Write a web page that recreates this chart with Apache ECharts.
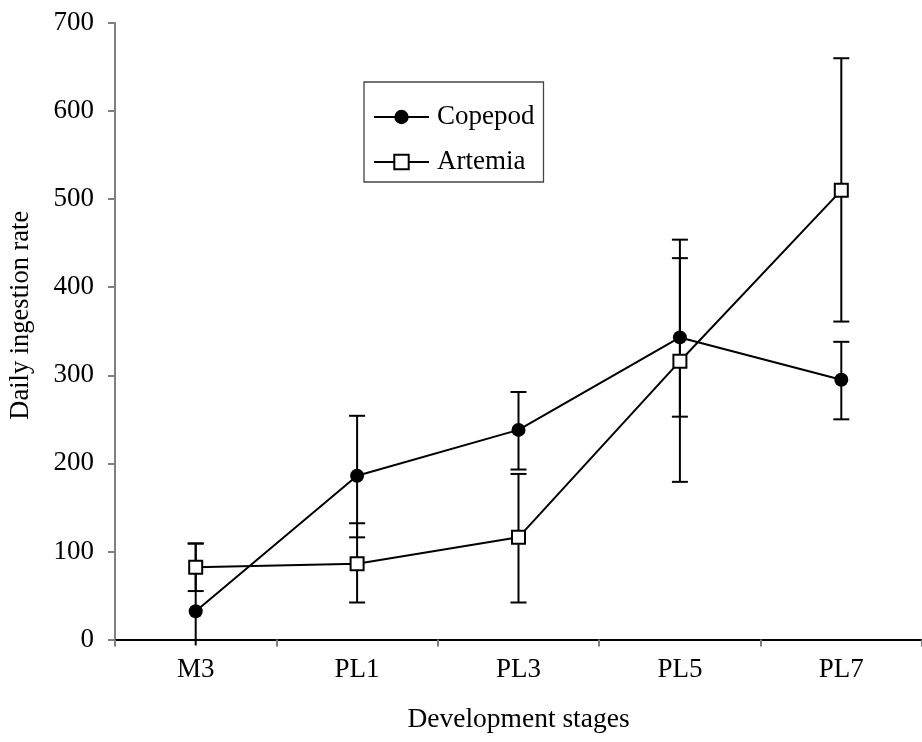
<!DOCTYPE html>
<html>
<head>
<meta charset="utf-8">
<script src="https://cdn.jsdelivr.net/npm/echarts@6/dist/echarts.min.js"></script>
<style>
  html, body { margin: 0; padding: 0; background: #fff; }
  #chart { width: 922px; height: 742px; }
</style>
</head>
<body>
<div id="chart"></div>
<script>
const categories = ['M3', 'PL1', 'PL3', 'PL5', 'PL7'];
const copepodMean = [32, 186, 238, 343, 295];
const copepodUpper = [109, 254, 281, 433, 338];
const copepodLower = [-45, 116, 193, 253, 250];
const artemiaMean = [82, 86, 116, 316, 510];
const artemiaUpper = [109, 132, 188, 454, 660];
const artemiaLower = [55, 42, 42, 179, 361];
const yTicks = [0, 700, 100];

const FONT = '"Liberation Serif", "DejaVu Serif", serif';

function errData(lower, upper) {
  return categories.map((c, i) => [i, lower[i], upper[i]]);
}

function renderErr(params, api) {
  const idx = api.value(0);
  const loV = api.value(1);
  const hiV = api.value(2);
  const axisMin = yTicks[0];
  const hi = api.coord([idx, hiV]);
  const lo = api.coord([idx, Math.max(loV, axisMin)]);
  const x = hi[0];
  const capHalf = 8;
  const style = { stroke: '#000', lineWidth: 2 };
  const children = [];
  const loY = loV < axisMin ? lo[1] + 6 : lo[1];
  children.push({ type: 'line', shape: { x1: x, y1: hi[1], x2: x, y2: loY }, style: style });
  children.push({ type: 'line', shape: { x1: x - capHalf, y1: hi[1], x2: x + capHalf, y2: hi[1] }, style: style });
  if (loV >= axisMin) {
    children.push({ type: 'line', shape: { x1: x - capHalf, y1: lo[1], x2: x + capHalf, y2: lo[1] }, style: style });
  }
  return { type: 'group', children: children };
}

const chart = echarts.init(document.getElementById('chart'), null, { renderer: 'canvas' });
chart.setOption({
  animation: false,
  backgroundColor: '#fff',
  textStyle: { fontFamily: FONT, color: '#000' },
  grid: { left: 114.5, top: 23, right: -5.5, bottom: 102.5, containLabel: false },
  legend: {
    orient: 'vertical',
    left: 364,
    top: 82,
    padding: [20, 9, 5, 9],
    itemGap: 15,
    itemWidth: 55,
    itemHeight: 18,
    borderColor: '#444',
    borderWidth: 1.3,
    backgroundColor: '#fff',
    data: ['Copepod', 'Artemia'],
    textStyle: { fontFamily: FONT, fontSize: 27, color: '#000', lineHeight: 30, padding: [0, 0, 0, 3] }
  },
  xAxis: {
    type: 'category',
    data: categories,
    boundaryGap: true,
    name: 'Development stages',
    nameLocation: 'middle',
    nameGap: 66,
    nameTextStyle: { fontFamily: FONT, fontSize: 27.5, color: '#000' },
    axisLine: { show: true, onZero: false, lineStyle: { color: '#000', width: 2 } },
    axisTick: { show: true, length: 7, alignWithLabel: false, lineStyle: { color: '#808080', width: 2 } },
    axisLabel: { fontFamily: FONT, fontSize: 27, color: '#000', margin: 17 },
    splitLine: { show: false }
  },
  yAxis: {
    type: 'value',
    min: yTicks[0],
    max: yTicks[1],
    interval: yTicks[2],
    name: 'Daily ingestion rate',
    nameLocation: 'middle',
    nameGap: 80,
    nameRotate: 90,
    nameTextStyle: { fontFamily: FONT, fontSize: 26.5, color: '#000', padding: [0, 0, 0, 32] },
    axisLine: { show: true, lineStyle: { color: '#808080', width: 2 } },
    axisTick: { show: true, length: 7, lineStyle: { color: '#808080', width: 2 } },
    axisLabel: { fontFamily: FONT, fontSize: 27, color: '#000', margin: 21 },
    splitLine: { show: false }
  },
  series: [
    {
      name: 'CopepodErr',
      type: 'custom',
      renderItem: renderErr,
      data: errData(copepodLower, copepodUpper),
      z: 1,
      clip: false,
      silent: true
    },
    {
      name: 'ArtemiaErr',
      type: 'custom',
      renderItem: renderErr,
      data: errData(artemiaLower, artemiaUpper),
      z: 1,
      clip: false,
      silent: true
    },
    {
      name: 'Copepod',
      type: 'line',
      data: copepodMean,
      symbol: 'circle',
      symbolSize: 14,
      showAllSymbol: true,
      lineStyle: { color: '#000', width: 2 },
      itemStyle: { color: '#000', borderColor: '#000', borderWidth: 0 },
      z: 3
    },
    {
      name: 'Artemia',
      type: 'line',
      data: artemiaMean,
      symbol: 'rect',
      symbolSize: 13,
      showAllSymbol: true,
      lineStyle: { color: '#000', width: 2 },
      itemStyle: { color: '#fff', borderColor: '#000', borderWidth: 2 },
      z: 4
    }
  ]
});
</script>
</body>
</html>
